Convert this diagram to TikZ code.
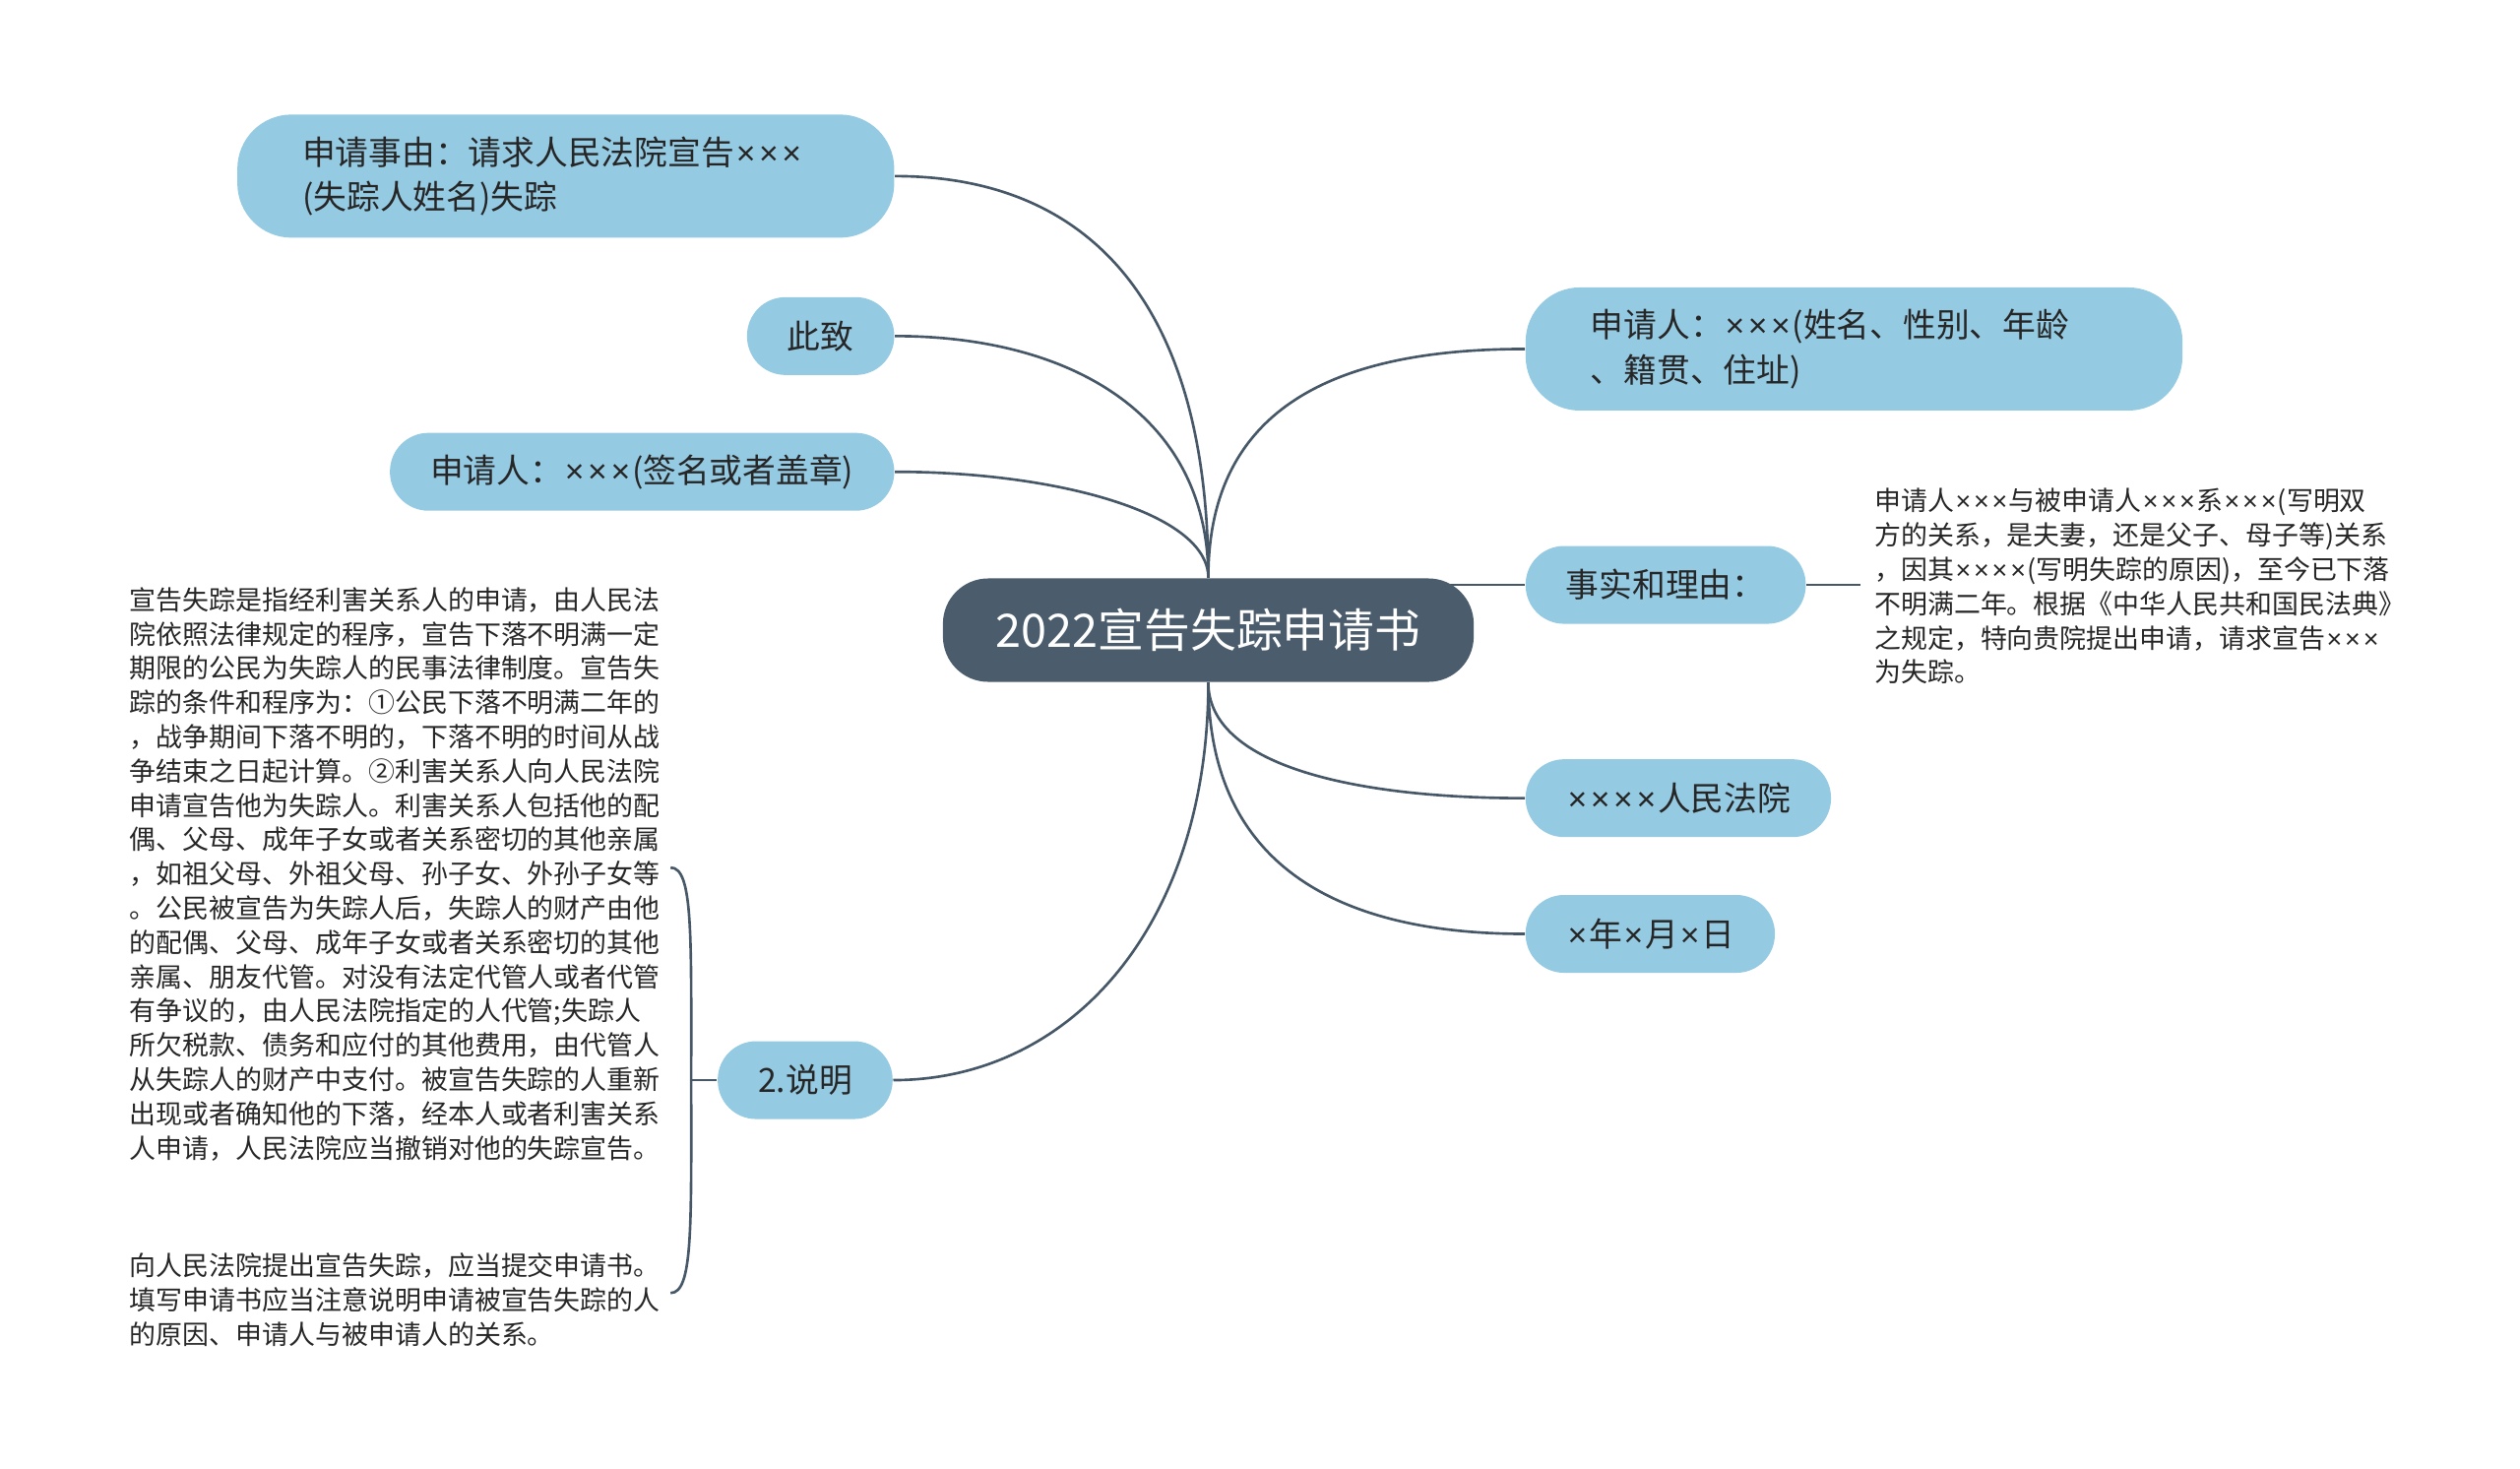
\documentclass[tikz,border=0pt]{standalone}
\usepackage{fontspec}
\newfontfamily\zhfont{Noto Sans CJK SC}
\newfontfamily\latinfont{Liberation Sans}
\newcommand{\tms}{\makebox[0.69em]{\latinfont ×}}
\usetikzlibrary{backgrounds,calc}

\definecolor{rootfill}{HTML}{4B5C6C}
\definecolor{leaffill}{HTML}{95CAE3}
\definecolor{linkcol}{HTML}{465768}
\definecolor{inktext}{HTML}{262626}

\begin{document}
\begin{tikzpicture}[
	x = 0.01641cm,
	y = -0.01641cm,
	topic/.style = {
		fill = rootfill,
		text = white,
		rounded corners = 0.46cm,
		minimum height = 1.05cm,
		inner xsep = 0.54cm,
		font = \zhfont\fontsize{13.3}{16}\selectfont,
	},
	leaf/.style = {
		fill = leaffill,
		text = inktext,
		rounded corners = 0.39cm,
		minimum height = 0.79cm,
		inner xsep = 0.41cm,
		font = \zhfont\fontsize{9.6}{13}\selectfont,
	},
	wideleaf/.style = {
		leaf,
		rounded corners = 0.55cm,
		minimum height = 1.25cm,
		text width = 5.35cm,
		inner xsep = 0.66cm,
		align = left,
	},
	note/.style = {
		anchor = north west,
		inner sep = 0pt,
		align = left,
		text = inktext,
		font = \zhfont\fontsize{7.66}{9.9}\selectfont,
	},
	link/.style = {
		draw = linkcol,
		line width = 0.75pt,
	},
]
	
	\useasboundingbox (0,0) rectangle (1560,909);
	
	\node[topic, name = root] at (748,390) {2022宣告失踪申请书};
	
	% left branches
	\node[wideleaf, anchor = east, name = reason] at (554,109)
		{申请事由：请求人民法院宣告\tms\tms\tms\\(失踪人姓名)失踪};
	\node[leaf, anchor = east, name = cizhi] at (554,208) {此致};
	\node[leaf, anchor = east, name = signer] at (554,292)
		{申请人：\tms\tms\tms(签名或者盖章)};
	\node[leaf, anchor = east, name = explain] at (553,668.5) {2.说明};
	
	% right branches
	\node[wideleaf, anchor = west, name = applicant] at (944,216)
		{申请人：\tms\tms\tms(姓名、性别、年龄\\、籍贯、住址)};
	\node[leaf, anchor = west, name = fact] at (944,362) {事实和理由：};
	\node[leaf, anchor = west, name = court] at (944,494) {\tms\tms\tms\tms{}人民法院};
	\node[leaf, anchor = west, name = date] at (944,578) {\tms{}年\tms{}月\tms{}日};
	
	\node[note, name = basis] at (1160,302) {%
		申请人\tms\tms\tms{}与被申请人\tms\tms\tms{}系\tms\tms\tms(写明双\\
		方的关系，是夫妻，还是父子、母子等)关系\\
		，因其\tms\tms\tms\tms(写明失踪的原因)，至今已下落\\
		不明满二年。根据《中华人民共和国民法典》\\
		之规定，特向贵院提出申请，请求宣告\tms\tms\tms\\
		为失踪。};
	
	\node[note, name = meaning] at (80,363) {%
		宣告失踪是指经利害关系人的申请，由人民法\\
		院依照法律规定的程序，宣告下落不明满一定\\
		期限的公民为失踪人的民事法律制度。宣告失\\
		踪的条件和程序为：①公民下落不明满二年的\\
		，战争期间下落不明的，下落不明的时间从战\\
		争结束之日起计算。②利害关系人向人民法院\\
		申请宣告他为失踪人。利害关系人包括他的配\\
		偶、父母、成年子女或者关系密切的其他亲属\\
		，如祖父母、外祖父母、孙子女、外孙子女等\\
		。公民被宣告为失踪人后，失踪人的财产由他\\
		的配偶、父母、成年子女或者关系密切的其他\\
		亲属、朋友代管。对没有法定代管人或者代管\\
		有争议的，由人民法院指定的人代管;失踪人\\
		所欠税款、债务和应付的其他费用，由代管人\\
		从失踪人的财产中支付。被宣告失踪的人重新\\
		出现或者确知他的下落，经本人或者利害关系\\
		人申请，人民法院应当撤销对他的失踪宣告。};
	
	\node[note, name = howto] at (80,775) {%
		向人民法院提出宣告失踪，应当提交申请书。\\
		填写申请书应当注意说明申请被宣告失踪的人\\
		的原因、申请人与被申请人的关系。};
	
	\coordinate (brace) at ($(explain.west)+(-16,0)$);
	
	\begin{scope}[on background layer]
		\draw[link] (root.north) .. controls +(0,-170) and +(120,0) .. (reason.east);
		\draw[link] (root.north) .. controls +(0,-100) and +(110,0) .. (cizhi.east);
		\draw[link] (root.north) .. controls +(0,-40) and +(100,0) .. (signer.east);
		\draw[link] (root.north) .. controls +(0,-110) and +(-110,0) .. (applicant.west);
		\draw[link] (fact.west -| root.center) -- (fact.west);
		\draw[link] (root.south) .. controls +(0,50) and +(-110,0) .. (court.west);
		\draw[link] (root.south) .. controls +(0,110) and +(-120,0) .. (date.west);
		\draw[link] (root.south) .. controls +(0,150) and +(110,0) .. (explain.east);
		\draw[link] (fact.east) -- ($(basis.west |- fact.east)+(-8,0)$);
	\end{scope}
	
	\draw[link]
		($(meaning.east)+(6,-4)$) .. controls +(14,0) and +(0,-90) .. (brace)
		.. controls +(0,90) and +(14,0) .. ($(howto.east)+(6,-4)$);
	\draw[link] (brace) -- (explain.west);
	
\end{tikzpicture}
\end{document}
